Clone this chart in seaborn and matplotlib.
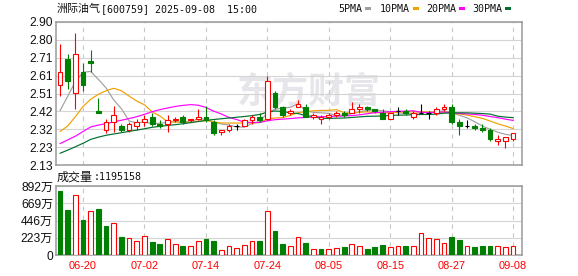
import numpy as np
import pandas as pd
import matplotlib
matplotlib.use("Agg")
import matplotlib.pyplot as plt
from matplotlib.patches import Rectangle
import seaborn as sns

# ---------------- data ----------------
dates = pd.bdate_range("2025-06-17", "2025-09-08").strftime("%m-%d").tolist()

open_ = [2.56, 2.70, 2.52, 2.63, 2.69, 2.42, 2.32, 2.36, 2.34, 2.32,
         2.34, 2.36, 2.39, 2.35, 2.35, 2.37, 2.39, 2.37, 2.38, 2.39,
         2.36, 2.31, 2.32, 2.34, 2.34, 2.37, 2.39, 2.38, 2.52, 2.44,
         2.41, 2.44, 2.44, 2.39, 2.38, 2.39, 2.40, 2.41, 2.41, 2.43,
         2.44, 2.43, 2.41, 2.38, 2.42, 2.42, 2.39, 2.41, 2.41, 2.41,
         2.43, 2.44, 2.36, 2.34, 2.34, 2.33, 2.32, 2.26, 2.26, 2.27]
high = [2.78, 2.73, 2.84, 2.68, 2.75, 2.49, 2.38, 2.45, 2.35, 2.36,
        2.38, 2.40, 2.41, 2.37, 2.40, 2.39, 2.40, 2.38, 2.43, 2.45,
        2.37, 2.32, 2.35, 2.35, 2.38, 2.40, 2.41, 2.61, 2.53, 2.45,
        2.43, 2.48, 2.46, 2.41, 2.40, 2.41, 2.42, 2.42, 2.47, 2.46,
        2.45, 2.43, 2.43, 2.41, 2.44, 2.43, 2.42, 2.46, 2.42, 2.44,
        2.46, 2.46, 2.38, 2.37, 2.35, 2.35, 2.33, 2.29, 2.28, 2.30]
low = [2.50, 2.54, 2.43, 2.53, 2.63, 2.41, 2.30, 2.31, 2.31, 2.31,
       2.32, 2.34, 2.34, 2.33, 2.31, 2.36, 2.35, 2.36, 2.37, 2.36,
       2.29, 2.29, 2.31, 2.32, 2.34, 2.35, 2.36, 2.37, 2.43, 2.39,
       2.40, 2.44, 2.39, 2.38, 2.35, 2.38, 2.39, 2.39, 2.41, 2.41,
       2.42, 2.41, 2.38, 2.38, 2.40, 2.40, 2.38, 2.41, 2.38, 2.40,
       2.42, 2.35, 2.29, 2.33, 2.32, 2.31, 2.26, 2.24, 2.22, 2.26]
close = [2.63, 2.58, 2.73, 2.56, 2.68, 2.41, 2.36, 2.40, 2.32, 2.35,
         2.36, 2.38, 2.35, 2.34, 2.37, 2.38, 2.36, 2.38, 2.39, 2.37,
         2.30, 2.32, 2.34, 2.34, 2.37, 2.39, 2.37, 2.58, 2.44, 2.40,
         2.42, 2.46, 2.39, 2.40, 2.39, 2.40, 2.41, 2.40, 2.43, 2.44,
         2.43, 2.42, 2.38, 2.41, 2.42, 2.41, 2.41, 2.41, 2.41, 2.43,
         2.44, 2.36, 2.34, 2.34, 2.33, 2.32, 2.27, 2.27, 2.28, 2.30]
close_before_first = 2.66

volume_wan = [827, 582, 772, 453, 565, 591, 375, 410, 229, 216,
              181, 242, 164, 142, 203, 138, 116, 112, 181, 207,
              181, 60, 112, 90, 125, 181, 181, 573, 310, 142,
              116, 229, 159, 78, 78, 78, 90, 103, 138, 116,
              78, 103, 129, 103, 116, 116, 116, 280, 220, 207,
              151, 233, 194, 116, 103, 116, 116, 116, 103, 119.5158]

ma5 = [2.422, 2.500, 2.579, 2.629, 2.634, 2.591, 2.545, 2.480, 2.433, 2.367,
       2.357, 2.362, 2.352, 2.355, 2.359, 2.364, 2.360, 2.366, 2.377, 2.378,
       2.361, 2.351, 2.345, 2.335, 2.334, 2.353, 2.364, 2.410, 2.431, 2.436,
       2.441, 2.459, 2.423, 2.413, 2.411, 2.408, 2.397, 2.399, 2.406, 2.417,
       2.424, 2.426, 2.422, 2.417, 2.411, 2.407, 2.406, 2.412, 2.413, 2.417,
       2.422, 2.412, 2.398, 2.384, 2.363, 2.340, 2.322, 2.307, 2.295, 2.289]
ma10 = [2.310, 2.340, 2.390, 2.445, 2.484, 2.511, 2.530, 2.543, 2.530, 2.501,
        2.474, 2.454, 2.416, 2.394, 2.363, 2.361, 2.361, 2.359, 2.366, 2.369,
        2.363, 2.356, 2.356, 2.356, 2.356, 2.357, 2.358, 2.378, 2.383, 2.385,
        2.397, 2.412, 2.417, 2.422, 2.424, 2.424, 2.428, 2.411, 2.410, 2.414,
        2.416, 2.412, 2.410, 2.412, 2.414, 2.416, 2.416, 2.417, 2.415, 2.414,
        2.415, 2.409, 2.405, 2.399, 2.390, 2.381, 2.367, 2.352, 2.340, 2.326]
ma20 = [2.245, 2.265, 2.285, 2.310, 2.335, 2.345, 2.353, 2.362, 2.371, 2.380,
        2.390, 2.403, 2.417, 2.428, 2.437, 2.445, 2.451, 2.455, 2.452, 2.440,
        2.420, 2.405, 2.386, 2.375, 2.360, 2.359, 2.359, 2.368, 2.374, 2.377,
        2.380, 2.384, 2.386, 2.389, 2.390, 2.391, 2.393, 2.394, 2.396, 2.400,
        2.406, 2.412, 2.414, 2.417, 2.419, 2.420, 2.422, 2.414, 2.412, 2.414,
        2.415, 2.410, 2.408, 2.405, 2.402, 2.398, 2.391, 2.385, 2.377, 2.370]
ma30 = [2.193, 2.210, 2.228, 2.247, 2.268, 2.280, 2.290, 2.297, 2.304, 2.311,
        2.318, 2.325, 2.333, 2.338, 2.343, 2.347, 2.352, 2.358, 2.364, 2.370,
        2.375, 2.379, 2.383, 2.387, 2.391, 2.396, 2.402, 2.415, 2.421, 2.418,
        2.411, 2.407, 2.396, 2.391, 2.381, 2.381, 2.382, 2.383, 2.386, 2.389,
        2.392, 2.393, 2.394, 2.397, 2.398, 2.399, 2.401, 2.402, 2.402, 2.404,
        2.409, 2.411, 2.411, 2.411, 2.409, 2.407, 2.404, 2.393, 2.388, 2.385]

tick_dates = ["06-20", "07-02", "07-14", "07-24", "08-05", "08-15", "08-27", "09-08"]
price_tick_labels = ["2.13", "2.23", "2.32", "2.42", "2.51", "2.61", "2.71", "2.80", "2.90"]
vol_tick_values = [0, 223, 446, 669, 892]
vol_tick_labels = ["0", "223万", "446万", "669万", "892万"]

title_name = "洲际油气"
title_rest = "[600759] 2025-09-08  15:00"
vol_title = "成交量"
vol_value = ":1195158"
legend_labels = ["5PMA", "10PMA", "20PMA", "30PMA"]
ma_colors = ["#a0a0a0", "#f0a000", "#ff00ff", "#006e2e"]
watermark = "东方财富"

# ---------------- style ----------------
sns.set_style("white")
CJK = ["Noto Sans CJK SC", "DejaVu Sans"]
MONO = ["DejaVu Sans Mono", "Liberation Mono"]
plt.rcParams["font.family"] = ["Liberation Sans", "Noto Sans CJK SC", "DejaVu Sans"]

RED = "#ff0000"
GREEN = "#008000"
GRID = "#d4d4d4"
SPINE = "#9a9a9a"
TXT = "#111111"

W, H = 578, 276
PX = 72.0 / 100.0  # points per pixel

fig = plt.figure(figsize=(W / 100, H / 100), dpi=100)
fig.patch.set_facecolor("white")
ax = fig.add_axes([56 / W, 1 - 165 / H, 466 / W, 143 / H])
axv = fig.add_axes([56 / W, 1 - 255 / H, 466 / W, 69 / H])

n = len(close)
xs = np.arange(n)
o = np.array(open_); h = np.array(high); l = np.array(low); c = np.array(close)
tick_pos = [dates.index(d) for d in tick_dates]
xlim = (-0.52, n + 0.16)

# ---------------- price panel ----------------
for ma, col in zip([ma5, ma10, ma20, ma30], ma_colors):
    sns.lineplot(x=xs, y=ma, ax=ax, color=col, linewidth=0.85, legend=False, zorder=2)

bw = 0.62
up = c > o
dn = c < o
dj = c == o
ax.vlines(xs[up], l[up], o[up], color=RED, linewidth=0.8, zorder=3)
ax.vlines(xs[up], c[up], h[up], color=RED, linewidth=0.8, zorder=3)
ax.bar(xs[up], (c - o)[up], bottom=o[up], width=bw, facecolor="white",
       edgecolor=RED, linewidth=0.8, zorder=3)
ax.vlines(xs[dn], l[dn], h[dn], color=GREEN, linewidth=0.8, zorder=3)
ax.bar(xs[dn], (o - c)[dn], bottom=c[dn], width=bw, facecolor=GREEN,
       edgecolor=GREEN, linewidth=0.8, zorder=3)
ax.vlines(xs[dj], l[dj], h[dj], color="black", linewidth=0.8, zorder=3)
ax.hlines(o[dj], xs[dj] - bw / 2, xs[dj] + bw / 2, color="black", linewidth=0.8, zorder=3)

ax.set_xlim(*xlim)
ax.set_ylim(2.13, 2.90)
ax.set_yticks(np.linspace(2.13, 2.90, len(price_tick_labels)))
ax.set_yticklabels(price_tick_labels)
ax.set_xticks(tick_pos)
ax.set_xticklabels([])

ax.text(309 / W, 1 - 92 / H, watermark, transform=fig.transFigure, ha="center",
        va="center", fontsize=36 * PX, fontweight="bold", color="#e6e6ea",
        family=CJK, zorder=0.1)

# ---------------- volume panel ----------------
vol = np.array(volume_wan)
prev = np.concatenate([[close_before_first], c[:-1]])
vup = c >= prev
axv.bar(xs[vup], vol[vup], width=bw, facecolor="white", edgecolor=RED, linewidth=0.8, zorder=3)
axv.bar(xs[~vup], vol[~vup], width=bw, facecolor=GREEN, edgecolor=GREEN, linewidth=0.8, zorder=3)
axv.set_xlim(*xlim)
axv.set_ylim(0, vol_tick_values[-1])
axv.set_yticks(vol_tick_values)
axv.set_yticklabels(vol_tick_labels)
axv.set_xticks(tick_pos)
axv.set_xticklabels(tick_dates)

for a in (ax, axv):
    a.set_axisbelow(True)
    a.yaxis.grid(True, color=GRID, linewidth=0.8, linestyle="-")
    a.xaxis.grid(True, color="#c8c8c8", linewidth=0.8, linestyle=(0, (4, 4)))
    for s in a.spines.values():
        s.set_color(SPINE)
        s.set_linewidth(1.1)
        s.set_visible(True)
    a.tick_params(axis="y", length=0, pad=3 * PX, labelsize=12 * PX, labelcolor=TXT)
    a.tick_params(axis="x", length=0, pad=4, labelsize=11 * PX, labelcolor=RED)
    a.set_xlabel("")
    a.set_ylabel("")
    a.set_facecolor("white")

# ---------------- texts ----------------
def ftext(xp, yp, s, **kw):
    fig.text(xp / W, 1 - yp / H, s, ha="left", va="center", **kw)

ftext(56.5, 9, title_name, family=CJK, fontsize=11 * PX, color=TXT)
ftext(101, 9, title_rest, family=MONO, fontsize=10 * PX, color=TXT)
ftext(57, 177, vol_title, family=CJK, fontsize=12 * PX, color=TXT)
ftext(93.5, 177, vol_value, family=MONO, fontsize=10 * PX, color=TXT)

leg_x = [338, 380, 426, 472]
mark_x = [365, 413, 459, 505]
for lab, lx, mx, col in zip(legend_labels, leg_x, mark_x, ma_colors):
    ftext(lx, 9, lab, family=MONO, fontsize=10 * PX, color=TXT)
    fig.add_artist(Rectangle((mx / W, 1 - 10 / H), 6 / W, 3 / H, transform=fig.transFigure,
                             facecolor=col, edgecolor="none"))

fig.savefig("out.png", dpi=100, facecolor="white")
